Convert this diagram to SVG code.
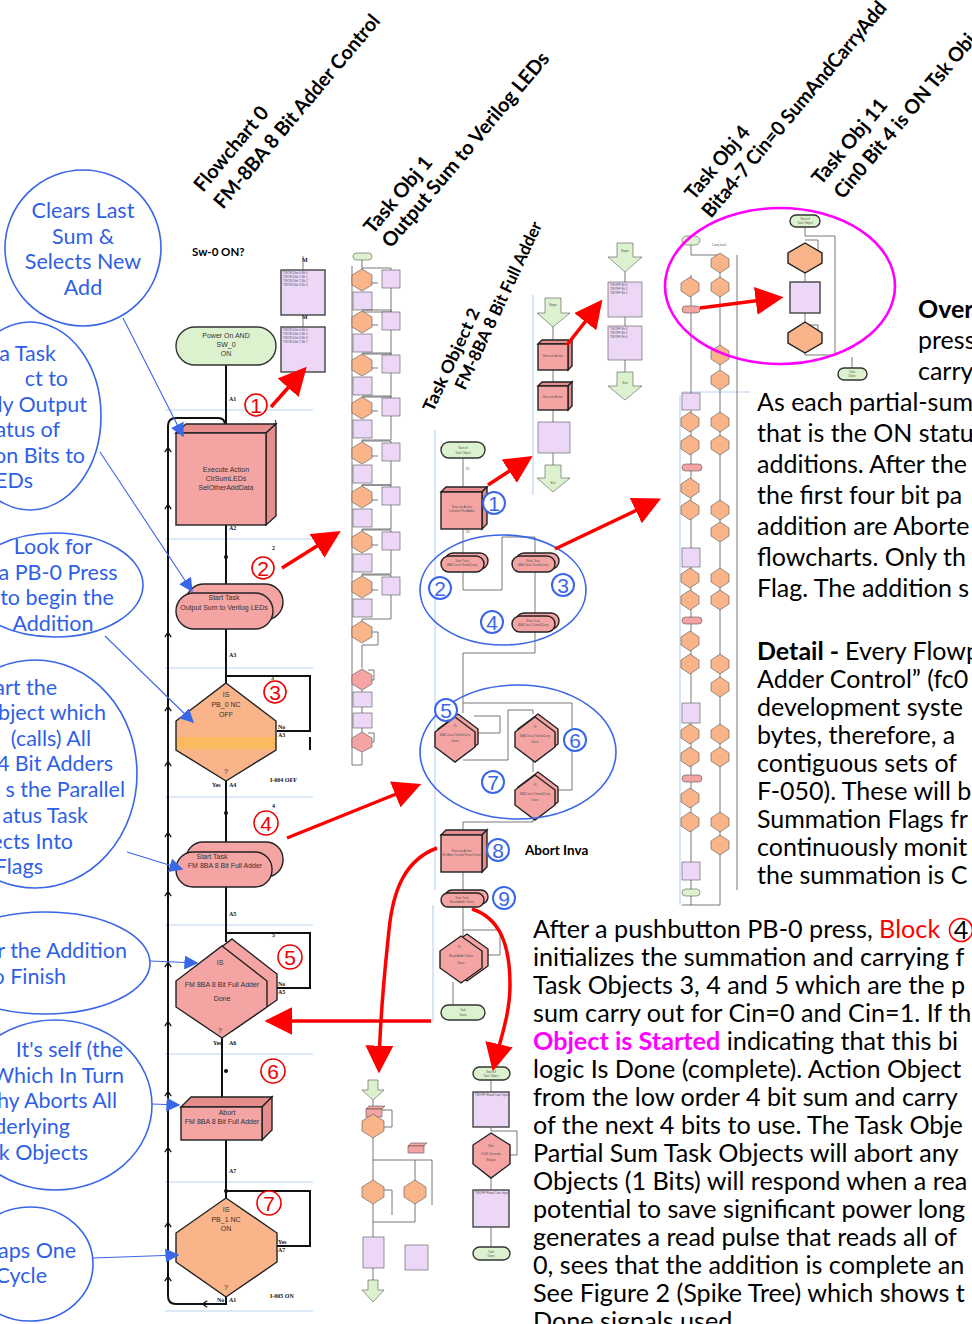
<svg xmlns="http://www.w3.org/2000/svg" width="972" height="1324" viewBox="0 0 972 1324">
<style>
  .bg{fill:#fff}
  .ell{fill:none;stroke:#3a66e8;stroke-width:1.6}
  .etx{font-family:Lato,"Liberation Sans",sans-serif;font-size:21.5px;fill:#2f5fe6}
  .blue{stroke:#3a66e8;stroke-width:1.1;fill:none}
  .red{stroke:#f00;stroke-width:3.5;fill:none}
  .redc{fill:#fff;stroke:#e00;stroke-width:1.6}
  .rnum{font-family:"Liberation Sans",sans-serif;font-size:21px;fill:#e00;text-anchor:middle}
  .bluc{fill:#fff;stroke:#3a66e8;stroke-width:2}
  .bnum{font-family:"Liberation Sans",sans-serif;font-size:21px;fill:#3a66e8;text-anchor:middle}
  .ttl{font-family:Lato,"Liberation Sans",sans-serif;font-weight:700;font-size:20px;fill:#000}
  .ttl2{font-family:Lato,"Liberation Sans",sans-serif;font-weight:700;font-size:17px;fill:#000}
  .para{font-family:Lato,"Liberation Sans",sans-serif;font-size:25px;fill:#000}
  .para2{font-family:Lato,"Liberation Sans",sans-serif;font-size:25.2px;fill:#000}
  .ln{stroke:#111;stroke-width:2;fill:none}
  .thin{stroke:#555;stroke-width:0.8;fill:none}
  .sep{stroke:#bcd4f4;stroke-width:1.2}
  .pink{fill:#f5a4a4;stroke:#222;stroke-width:1.4}
  .pinkd{fill:#e58c8c;stroke:#222;stroke-width:1.4}
  .org{fill:#f9b48a;stroke:#222;stroke-width:1.4}
  .grn{fill:#dcf2cf;stroke:#333;stroke-width:1.4}
  .lil{fill:#ecd7f7;stroke:#444;stroke-width:1.4}
  .mpink{fill:#f5a4a4;stroke:#555;stroke-width:0.6}
  .morg{fill:#f9b48a;stroke:#555;stroke-width:0.6}
  .mgrn{fill:#dcf2cf;stroke:#555;stroke-width:0.6}
  .mlil{fill:#ecd7f7;stroke:#555;stroke-width:0.6}
  .ft{font-family:"Liberation Sans",sans-serif;font-size:7px;fill:#333;text-anchor:middle}
  .lab{font-family:"Liberation Serif",serif;font-size:6px;font-weight:700;fill:#111}
  .tiny{font-family:"Liberation Sans",sans-serif;font-size:3px;fill:#555}
</style>
<defs>
  <marker id="ah-blue" viewBox="0 0 10 10" refX="9" refY="5" markerWidth="14" markerHeight="14" markerUnits="userSpaceOnUse" orient="auto">
    <path d="M0,0 L10,5 L0,10 z" fill="#3a66e8"/>
  </marker>
  <marker id="ah-red" viewBox="0 0 10 10" refX="8" refY="5" markerWidth="8" markerHeight="8" orient="auto">
    <path d="M0,0 L10,5 L0,10 z" fill="#f00"/>
  </marker>
  <marker id="chev" viewBox="0 0 10 10" refX="5" refY="5" markerWidth="8" markerHeight="8" markerUnits="userSpaceOnUse" orient="auto">
    <path d="M1,1 L7,5 L1,9" fill="none" stroke="#111" stroke-width="1.6"/>
  </marker>
  <!-- small flowchart symbols used in the miniature task charts -->
  <polygon id="md2" class="morg" points="0,-10 9,-4 9,4 0,10 -9,4 -9,-4"/>
  <g id="t1unit">
    <polyline class="thin" points="362,268 391,268 391,270"/>
    <polyline class="thin" points="391,288 391,312 362,312 362,314"/>
    <polyline class="thin" points="372,283 378,283"/>
    <polygon class="morg" points="362,269 372,275 372,285 362,291 352,285 352,275"/>
    <rect class="mlil" x="382" y="270" width="18" height="18"/>
    <rect class="mlil" x="353" y="292" width="19" height="18"/>
  </g>
</defs>

<rect class="bg" x="0" y="0" width="972" height="1324"/>

<!-- explanation bubbles at the left edge -->
<g id="bubble-1">
  <ellipse class="ell" cx="83" cy="248" rx="78" ry="78"/>
  <text class="etx" text-anchor="middle"><tspan x="83" y="218">Clears Last</tspan><tspan x="83" y="244">Sum &amp;</tspan><tspan x="83" y="269">Selects New</tspan><tspan x="83" y="295">Add</tspan></text>
</g>
<g id="bubble-2">
  <ellipse class="ell" cx="30" cy="416" rx="71" ry="94"/>
  <text class="etx" text-anchor="end"><tspan x="56" y="361">a Task</tspan><tspan x="68" y="386">ct to</tspan><tspan x="87" y="412">ly Output</tspan><tspan x="60" y="437">atus of</tspan><tspan x="85" y="463">on Bits to</tspan><tspan x="33" y="488">EDs</tspan></text>
</g>
<g id="bubble-3">
  <ellipse class="ell" cx="55" cy="585" rx="88" ry="52"/>
  <text class="etx" text-anchor="middle"><tspan x="53" y="554">Look for</tspan><tspan x="58" y="580">a PB-0 Press</tspan><tspan x="57" y="605">to begin the</tspan><tspan x="53" y="631">Addition</tspan></text>
</g>
<g id="bubble-4">
  <ellipse class="ell" cx="35" cy="774" rx="102" ry="114"/>
  <text class="etx" text-anchor="end"><tspan x="57" y="695">art the</tspan><tspan x="106" y="720">bject which</tspan><tspan x="91" y="746">(calls) All</tspan><tspan x="113" y="771">4 Bit Adders</tspan><tspan x="125" y="797">s the Parallel</tspan><tspan x="88" y="823">atus Task</tspan><tspan x="73" y="849">ects Into</tspan><tspan x="43" y="874">Flags</tspan></text>
</g>
<g id="bubble-5">
  <ellipse class="ell" cx="45" cy="963" rx="105" ry="51"/>
  <text class="etx" text-anchor="end"><tspan x="127" y="958">r the Addition</tspan><tspan x="66" y="984">to Finish</tspan></text>
</g>
<g id="bubble-6">
  <ellipse class="ell" cx="55" cy="1105" rx="97" ry="85"/>
  <text class="etx" text-anchor="end"><tspan x="123" y="1057">It's self (the</tspan><tspan x="124" y="1083">Which In Turn</tspan><tspan x="117" y="1108">hy Aborts All</tspan><tspan x="70" y="1134">derlying</tspan><tspan x="88" y="1160">k Objects</tspan></text>
</g>
<g id="bubble-7">
  <ellipse class="ell" cx="30" cy="1264" rx="63" ry="57"/>
  <text class="etx" text-anchor="end"><tspan x="76" y="1258">aps One</tspan><tspan x="47" y="1283">Cycle</tspan></text>
</g>

<!-- rotated chart titles -->
<g id="titles">
  <text class="ttl" transform="translate(203,193) rotate(-50)" textLength="104" lengthAdjust="spacingAndGlyphs">Flowchart 0</text>
  <text class="ttl" transform="translate(223,210) rotate(-50)" textLength="246" lengthAdjust="spacingAndGlyphs">FM-8BA 8 Bit Adder Control</text>
  <text class="ttl" transform="translate(373,235) rotate(-50)" textLength="94" lengthAdjust="spacingAndGlyphs">Task Obj 1</text>
  <text class="ttl" transform="translate(391,249) rotate(-50)" textLength="248" lengthAdjust="spacingAndGlyphs">Output Sum to Verilog LEDs</text>
  <text class="ttl2" transform="translate(433,413) rotate(-65)" textLength="112" lengthAdjust="spacingAndGlyphs">Task Object 2</text>
  <text class="ttl2" transform="translate(465,391) rotate(-65)" textLength="183" lengthAdjust="spacingAndGlyphs">FM-8BA 8 Bit Full Adder</text>
  <text class="ttl" transform="translate(694,201) rotate(-50)" textLength="89" lengthAdjust="spacingAndGlyphs">Task Obj 4</text>
  <text class="ttl" transform="translate(711,219) rotate(-50)" textLength="275" lengthAdjust="spacingAndGlyphs">Bita4-7 Cin=0 SumAndCarryAdd</text>
  <text class="ttl" transform="translate(821,186) rotate(-50)" textLength="105" lengthAdjust="spacingAndGlyphs">Task Obj 11</text>
  <text class="ttl" transform="translate(843,200) rotate(-50)" textLength="208" lengthAdjust="spacingAndGlyphs">Cin0 Bit 4 is ON Tsk Obj</text>
  <text x="192" y="256" style="font-family:Lato,'Liberation Sans',sans-serif;font-weight:700;font-size:11.5px">Sw-0 ON?</text>
  <text x="525" y="855" style="font-family:Lato,'Liberation Sans',sans-serif;font-weight:700;font-size:13.5px">Abort Inva</text>
</g>

<!-- Flowchart 0: section separators -->
<g id="separators">
  <line class="sep" x1="165" y1="410" x2="313" y2="410"/>
  <line class="sep" x1="165" y1="539" x2="313" y2="539"/>
  <line class="sep" x1="165" y1="668" x2="313" y2="668"/>
  <line class="sep" x1="165" y1="797" x2="313" y2="797"/>
  <line class="sep" x1="165" y1="925" x2="313" y2="925"/>
  <line class="sep" x1="165" y1="1054" x2="313" y2="1054"/>
  <line class="sep" x1="165" y1="1182" x2="313" y2="1182"/>
  <line class="sep" x1="165" y1="1311" x2="313" y2="1311"/>
  <line class="sep" x1="435" y1="430" x2="435" y2="890"/>
  <line class="sep" x1="433" y1="905" x2="433" y2="1022"/>
  <line class="sep" x1="533" y1="295" x2="533" y2="495"/>
  <line class="sep" x1="680" y1="395" x2="680" y2="905"/>
  <line class="sep" x1="682" y1="392" x2="750" y2="392"/>
</g>

<!-- Flowchart 0 connectors -->
<g id="connectors-main">
  <line class="ln" x1="226" y1="365" x2="226" y2="433"/>
  <line class="ln" x1="226" y1="525" x2="226" y2="593"/>
  <line class="ln" x1="226" y1="629" x2="226" y2="683"/>
  <line class="ln" x1="226" y1="781" x2="226" y2="852"/>
  <line class="ln" x1="226" y1="887" x2="226" y2="942"/>
  <line class="ln" x1="222" y1="1038" x2="222" y2="1097"/>
  <line class="ln" x1="226" y1="1140" x2="226" y2="1198"/>
  <path class="ln" d="M226,1297 V1304 H176 Q168,1304 168,1296 V426 Q168,418 176,418 H218 Q225,418 225,425 V428"/>
  <path class="ln" marker-start="url(#chev)" d="M204,1304 H203"/>
  <g class="ln">
    <path marker-start="url(#chev)" d="M168,449 V447"/>
    <path marker-start="url(#chev)" d="M168,506 V504"/>
    <path marker-start="url(#chev)" d="M168,634 V632"/>
    <path marker-start="url(#chev)" d="M168,708 V706"/>
    <path marker-start="url(#chev)" d="M168,763 V761"/>
    <path marker-start="url(#chev)" d="M168,834 V832"/>
    <path marker-start="url(#chev)" d="M168,893 V891"/>
    <path marker-start="url(#chev)" d="M168,964 V962"/>
    <path marker-start="url(#chev)" d="M168,1023 V1021"/>
    <path marker-start="url(#chev)" d="M168,1093 V1091"/>
    <path marker-start="url(#chev)" d="M168,1149 V1147"/>
    <path marker-start="url(#chev)" d="M168,1224 V1222"/>
    <path marker-start="url(#chev)" d="M168,1278 V1276"/>
  </g>
  <polyline class="ln" points="226,676 310,676 310,731 277,731"/>
  <line class="ln" x1="310" y1="737" x2="310" y2="750"/>
  <polyline class="ln" points="226,933 310,933 310,988 277,988"/>
  <polyline class="ln" points="226,1191 310,1191 310,1246 277,1246"/>
  <g fill="#111">
    <circle cx="226" cy="428" r="2.4"/>
    <circle cx="226" cy="557" r="2"/>
    <circle cx="226" cy="813" r="2"/>
    <circle cx="226" cy="1071" r="2"/>
    <circle cx="226" cy="1191" r="2"/>
  </g>
  <g class="lab">
    <text x="229" y="401">A1</text>
    <text x="229" y="530">A2</text>
    <text x="229" y="657">A3</text>
    <text x="212" y="787">Yes</text><text x="229" y="787">A4</text>
    <text x="229" y="916">A5</text>
    <text x="213" y="1045">Yes</text><text x="229" y="1045">A6</text>
    <text x="229" y="1173">A7</text>
    <text x="278" y="729">No</text><text x="278" y="737">A3</text>
    <text x="278" y="986">No</text><text x="278" y="994">A5</text>
    <text x="278" y="1244">Yes</text><text x="278" y="1252">A7</text>
    <text x="217" y="1302">No</text><text x="229" y="1302">A1</text>
    <text x="270" y="782">I-004 OFF</text>
    <text x="270" y="1298">I-005 ON</text>
    <text x="274" y="424">1</text>
    <text x="272" y="550">2</text>
    <text x="271" y="680">3</text>
    <text x="272" y="808">4</text>
    <text x="272" y="937">5</text>
    <text x="302" y="262">M</text>
    <text x="302" y="319">M</text>
  </g>
</g>

<!-- Flowchart 0 nodes -->
<g id="node-power-on">
  <rect class="grn" x="176" y="327" width="100" height="38" rx="19"/>
  <text class="ft"><tspan x="226" y="338">Power On  AND</tspan><tspan x="226" y="347">SW_0</tspan><tspan x="226" y="356">ON</tspan></text>
</g>
<g id="node-sw-outputs">
  <line class="thin" x1="303" y1="256" x2="303" y2="270"/>
  <line class="thin" x1="303" y1="315" x2="303" y2="327"/>
  <rect class="lil" x="281" y="270" width="44" height="45"/>
  <rect class="lil" x="281" y="327" width="44" height="45"/>
  <text class="tiny"><tspan x="283" y="274">TWON Dbit 0 Bit 0</tspan><tspan x="283" y="278">TWON Dbit 1 Bit 1</tspan><tspan x="283" y="282">TWON Dbit 2 Bit 2</tspan><tspan x="283" y="286">TWON Dbit 3 Bit 3</tspan></text>
  <text class="tiny"><tspan x="283" y="331">TWON Dbit 4 Bit 4</tspan><tspan x="283" y="335">TWON Dbit 5 Bit 5</tspan><tspan x="283" y="339">TWON Dbit 6 Bit 6</tspan><tspan x="283" y="343">TWON Dbit 7 Bit 7</tspan></text>
</g>
<g id="node-execute-action">
  <polygon class="pinkd" points="176,433 186,424 276,424 266,433"/>
  <polygon class="pinkd" points="266,433 276,424 276,516 266,525"/>
  <rect class="pink" x="176" y="433" width="90" height="92"/>
  <text class="ft"><tspan x="226" y="472">Execute Action</tspan><tspan x="226" y="481">ClrSumLEDs</tspan><tspan x="226" y="490">SelOtherAddData</tspan></text>
</g>
<g id="node-start-output">
  <rect class="pink" x="186" y="584" width="97" height="36" rx="18"/>
  <rect class="pink" x="176" y="593" width="97" height="36" rx="18"/>
  <text class="ft"><tspan x="224" y="600">Start Task</tspan><tspan x="224" y="610">Output Sum to Verilog LEDs</tspan></text>
</g>
<g id="node-pb0-off">
  <polygon class="org" points="226,683 276,721 276,750 226,781 176,750 176,721"/>
  <rect x="177" y="737" width="98" height="12" fill="#fcba5e"/>
  <text class="ft"><tspan x="226" y="697">IS</tspan><tspan x="226" y="707">PB_0 NC</tspan><tspan x="226" y="717">OFF</tspan><tspan x="226" y="774">?</tspan></text>
</g>
<g id="node-start-adder">
  <rect class="pink" x="186" y="842" width="97" height="35" rx="17"/>
  <rect class="pink" x="176" y="852" width="96" height="35" rx="17"/>
  <text class="ft"><tspan x="212" y="859">Start Task</tspan><tspan x="225" y="868">FM 8BA 8 Bit Full Adder</tspan></text>
</g>
<g id="node-adder-done">
  <polygon class="pink" points="232,939 277,974 277,1000 232,1031 186,1000 186,974"/>
  <polygon class="pink" points="222,946 267,981 267,1007 222,1038 176,1007 176,981"/>
  <text class="ft"><tspan x="220" y="965">IS</tspan><tspan x="222" y="987">FM 8BA 8 Bit Full Adder</tspan><tspan x="222" y="1001">Done</tspan><tspan x="220" y="1033">?</tspan></text>
</g>
<g id="node-abort-adder">
  <polygon class="pinkd" points="181,1107 191,1097 272,1097 262,1107"/>
  <polygon class="pinkd" points="262,1107 272,1097 272,1130 262,1140"/>
  <rect class="pink" x="181" y="1107" width="81" height="33"/>
  <text class="ft"><tspan x="227" y="1115">Abort</tspan><tspan x="222" y="1124">FM 8BA 8 Bit Full Adder</tspan></text>
</g>
<g id="node-pb1-on">
  <polygon class="org" points="226,1198 277,1233 277,1262 226,1297 176,1262 176,1233"/>
  <text class="ft"><tspan x="226" y="1212">IS</tspan><tspan x="226" y="1222">PB_1 NC</tspan><tspan x="226" y="1231">ON</tspan><tspan x="226" y="1290">?</tspan></text>
</g>

<!-- Task Obj 1 miniature chart -->
<g id="task-obj-1">
  <line class="thin" x1="352" y1="266" x2="352" y2="765"/>
  <line class="thin" x1="362" y1="260" x2="362" y2="269"/>
  <rect class="mgrn" x="353" y="253" width="19" height="7" rx="3.5"/>
  <use href="#t1unit"/>
  <use href="#t1unit" y="42"/>
  <use href="#t1unit" y="85"/>
  <use href="#t1unit" y="128"/>
  <use href="#t1unit" y="173"/>
  <use href="#t1unit" y="217"/>
  <use href="#t1unit" y="262"/>
  <use href="#t1unit" y="307"/>
  <polyline class="thin" points="372,632 378,632 378,645 362,645 362,668"/>
  <polygon class="morg" points="362,621 372,627 372,637 362,643 352,637 352,627"/>
  <line class="thin" x1="362" y1="690" x2="362" y2="692"/>
  <line class="thin" x1="362" y1="707" x2="362" y2="713"/>
  <line class="thin" x1="362" y1="728" x2="362" y2="732"/>
  <line class="thin" x1="362" y1="752" x2="362" y2="765"/>
  <line class="thin" x1="352" y1="765" x2="362" y2="765"/>
  <polyline class="thin" points="368,670 374,670 374,680 372,680"/>
  <polyline class="thin" points="368,733 374,733 374,742 372,742"/>
  <polygon class="mpink" points="362,669 372,675 372,684 362,690 352,684 352,675"/>
  <rect class="mlil" x="353" y="692" width="19" height="15"/>
  <rect class="mlil" x="353" y="713" width="19" height="15"/>
  <polygon class="mpink" points="362,732 372,738 372,747 362,752 352,747 352,738"/>
</g>

<!-- Task Object 2 chart -->
<g id="task-obj-2">
  <g id="t2-lines">
    <line class="thin" x1="463" y1="458" x2="463" y2="492"/>
    <line class="thin" x1="463" y1="529" x2="463" y2="555"/>
    <polyline class="thin" points="463,572 463,590 502,590 502,537 535,537 535,555"/>
    <line class="thin" x1="535" y1="572" x2="535" y2="613"/>
    <polyline class="thin" points="535,632 535,653 463,653 463,713"/>
    <polyline class="thin" points="463,703 572,703 572,790 556,790"/>
    <polyline class="thin" points="474,716 500,716 500,733 474,733"/>
    <polyline class="thin" points="463,760 508,760 508,710 533,710 533,714"/>
    <line class="thin" x1="533" y1="758" x2="533" y2="772"/>
    <polyline class="thin" points="533,818 533,822 463,822 463,830"/>
    <line class="thin" x1="463" y1="872" x2="463" y2="893"/>
    <polyline class="thin" points="463,907 463,936"/>
    <polyline class="thin" points="463,930 500,930 500,955 483,955"/>
    <line class="thin" x1="453" y1="982" x2="453" y2="1005"/>
    <text class="tiny" x="466" y="470">S1</text>
    <text class="tiny" x="466" y="533">S2</text>
  </g>
  <rect class="grn" x="441" y="442" width="44" height="16" rx="8" stroke-width="0.8"/>
  <text class="tiny" text-anchor="middle"><tspan x="463" y="449">Start of</tspan><tspan x="463" y="454">Task Object</tspan></text>
  <polygon class="pinkd" points="441,492 446,487 487,487 482,492" stroke-width="0.8"/>
  <polygon class="pinkd" points="482,492 487,487 487,524 482,529" stroke-width="0.8"/>
  <rect class="pink" x="441" y="492" width="41" height="37" stroke-width="0.8"/>
  <text class="tiny" text-anchor="middle"><tspan x="462" y="508">Execute Action</tspan><tspan x="462" y="512">Initialize FlexAdder</tspan></text>
  <rect class="pink" x="445" y="553" width="43" height="16" rx="8" stroke-width="0.8"/>
  <rect class="pink" x="441" y="556" width="43" height="16" rx="8" stroke-width="0.8"/>
  <text class="tiny" text-anchor="middle"><tspan x="462" y="562">Start Task</tspan><tspan x="462" y="566">4BA Cin=0 Sum&amp;Carry</tspan></text>
  <rect class="pink" x="516" y="553" width="43" height="16" rx="8" stroke-width="0.8"/>
  <rect class="pink" x="512" y="556" width="43" height="16" rx="8" stroke-width="0.8"/>
  <text class="tiny" text-anchor="middle"><tspan x="533" y="562">Start Task</tspan><tspan x="533" y="566">4BA Cin=0 Sum&amp;Carry</tspan></text>
  <rect class="pink" x="516" y="613" width="43" height="16" rx="8" stroke-width="0.8"/>
  <rect class="pink" x="512" y="616" width="43" height="16" rx="8" stroke-width="0.8"/>
  <text class="tiny" text-anchor="middle"><tspan x="533" y="622">Start Task</tspan><tspan x="533" y="626">4BA Cin=1 Sum&amp;Carry</tspan></text>
  <g id="t2-diamonds">
    <polygon class="pink" points="458,714 478,729 478,744 458,759 438,744 438,729" stroke-width="0.8"/>
    <polygon class="pink" points="455,717 475,732 475,747 455,762 435,747 435,732" stroke-width="0.8"/>
    <text class="tiny" text-anchor="middle"><tspan x="455" y="727">IS</tspan><tspan x="455" y="736">4BA Cin=0 Sum&amp;Carry</tspan><tspan x="455" y="742">Done</tspan></text>
    <polygon class="pink" points="538,714 558,729 558,744 538,759 518,744 518,729" stroke-width="0.8"/>
    <polygon class="pink" points="535,717 555,732 555,747 535,762 515,747 515,732" stroke-width="0.8"/>
    <text class="tiny" text-anchor="middle"><tspan x="535" y="728">IS</tspan><tspan x="535" y="737">4BA Cin=0 Sum&amp;Carry</tspan><tspan x="535" y="743">Done</tspan></text>
    <polygon class="pink" points="538,772 558,787 558,802 538,817 518,802 518,787" stroke-width="0.8"/>
    <polygon class="pink" points="535,775 555,790 555,805 535,820 515,805 515,790" stroke-width="0.8"/>
    <text class="tiny" text-anchor="middle"><tspan x="535" y="786">IS</tspan><tspan x="535" y="795">4BA Cin=1 Sum&amp;Carry</tspan><tspan x="535" y="801">Done</tspan></text>
  </g>
  <polygon class="pinkd" points="441,835 446,830 487,830 482,835" stroke-width="0.8"/>
  <polygon class="pinkd" points="482,835 487,830 487,867 482,872" stroke-width="0.8"/>
  <rect class="pink" x="441" y="835" width="41" height="37" stroke-width="0.8"/>
  <text class="tiny" text-anchor="middle"><tspan x="462" y="852">Execute Action</tspan><tspan x="462" y="856">Eff Abort Invalid Partial Sums</tspan></text>
  <rect class="pink" x="445" y="890" width="43" height="14" rx="7" stroke-width="0.8"/>
  <rect class="pink" x="441" y="893" width="43" height="14" rx="7" stroke-width="0.8"/>
  <text class="tiny" text-anchor="middle"><tspan x="462" y="899">Start Task</tspan><tspan x="462" y="903">Read Adder Value</tspan></text>
  <polygon class="pink" points="467,934 488,949 488,966 467,981 446,966 446,949" stroke-width="0.8"/>
  <polygon class="pink" points="461,936 482,951 482,968 461,983 440,968 440,951" stroke-width="0.8"/>
  <text class="tiny" text-anchor="middle"><tspan x="459" y="948">IS</tspan><tspan x="461" y="957">Read Adder Value</tspan><tspan x="461" y="964">Done</tspan></text>
  <rect class="grn" x="441" y="1005" width="44" height="15" rx="7.5" stroke-width="0.8"/>
  <text class="tiny" text-anchor="middle"><tspan x="463" y="1011">Task</tspan><tspan x="463" y="1016">Done</tspan></text>
</g>

<!-- Output chart (Begin / Exit) -->
<g id="task-output">
  <line class="thin" x1="553" y1="318" x2="553" y2="340"/>
  <line class="thin" x1="553" y1="370" x2="553" y2="385"/>
  <line class="thin" x1="553" y1="410" x2="553" y2="422"/>
  <line class="thin" x1="553" y1="453" x2="553" y2="465"/>
  <polygon class="mgrn" points="545,298 561,298 561,313 570,313 553,327 537,313 545,313"/>
  <text class="tiny" x="553" y="306" text-anchor="middle">Begin</text>
  <polygon class="pinkd" points="538,344 542,340 572,340 568,344" stroke-width="0.8"/>
  <polygon class="pinkd" points="568,344 572,340 572,366 568,370" stroke-width="0.8"/>
  <rect class="pink" x="538" y="344" width="30" height="26" stroke-width="0.8"/>
  <text class="tiny" x="553" y="357" text-anchor="middle">Execute Action</text>
  <polygon class="pinkd" points="538,386 542,382 572,382 568,386" stroke-width="0.8"/>
  <polygon class="pinkd" points="568,386 572,382 572,406 568,410" stroke-width="0.8"/>
  <rect class="pink" x="538" y="386" width="30" height="24" stroke-width="0.8"/>
  <text class="tiny" x="553" y="398" text-anchor="middle">Execute Action</text>
  <rect class="mlil" x="538" y="422" width="32" height="31"/>
  <polygon class="mgrn" points="545,465 561,465 561,478 570,478 553,492 537,478 545,478"/>
  <text class="tiny" x="553" y="484" text-anchor="middle">Exit</text>
</g>
<g id="task-output-2">
  <line class="thin" x1="625" y1="272" x2="625" y2="282"/>
  <line class="thin" x1="625" y1="317" x2="625" y2="326"/>
  <line class="thin" x1="625" y1="360" x2="625" y2="372"/>
  <polygon class="mgrn" points="617,243 633,243 633,257 642,257 625,272 608,257 617,257"/>
  <text class="tiny" x="625" y="252" text-anchor="middle">Begin</text>
  <rect class="mlil" x="608" y="282" width="34" height="35"/>
  <rect class="mlil" x="608" y="326" width="34" height="34"/>
  <text class="tiny"><tspan x="610" y="286">TWOFF Bit 0</tspan><tspan x="610" y="290">TWOFF Bit 1</tspan><tspan x="610" y="294">TWOFF Bit 2</tspan><tspan x="610" y="330">TWOFF Bit 4</tspan><tspan x="610" y="334">TWOFF Bit 5</tspan><tspan x="610" y="338">TWOFF Bit 6</tspan></text>
  <polygon class="mgrn" points="617,372 633,372 633,386 642,386 625,400 608,386 617,386"/>
  <text class="tiny" x="625" y="384" text-anchor="middle">Exit</text>
</g>

<!-- Task Obj 4 miniature chart -->
<g id="task-obj-4">
  <polyline class="thin" points="691,245 691,255 720,255 720,905"/>
  <line class="thin" x1="691" y1="275" x2="691" y2="905"/>
  <line class="thin" x1="737" y1="255" x2="737" y2="890"/>
  <line class="thin" x1="682" y1="905" x2="720" y2="905"/>
  <rect class="mgrn" x="682" y="236" width="18" height="9" rx="4.5"/>
  <text class="tiny" x="712" y="246">Carry In=0</text>
  <use href="#md2" x="720" y="263"/>
  <use href="#md2" x="690" y="287"/>
  <use href="#md2" x="720" y="287"/>
  <rect class="mpink" x="682" y="306" width="18" height="7" rx="3.5"/>
  <use href="#md2" x="720" y="355"/>
  <use href="#md2" x="720" y="380"/>
  <rect class="mlil" x="682" y="393" width="18" height="17"/>
  <use href="#md2" x="690" y="422"/><use href="#md2" x="720" y="422"/>
  <use href="#md2" x="690" y="445"/><use href="#md2" x="720" y="445"/>
  <rect class="mpink" x="682" y="464" width="20" height="7" rx="3.5"/>
  <use href="#md2" x="690" y="488"/>
  <use href="#md2" x="690" y="510"/><use href="#md2" x="720" y="510"/>
  <use href="#md2" x="720" y="532"/>
  <rect class="mlil" x="682" y="548" width="18" height="19"/>
  <use href="#md2" x="690" y="578"/><use href="#md2" x="720" y="578"/>
  <use href="#md2" x="690" y="600"/><use href="#md2" x="720" y="600"/>
  <rect class="mpink" x="682" y="617" width="20" height="7" rx="3.5"/>
  <use href="#md2" x="690" y="641"/>
  <use href="#md2" x="690" y="664"/><use href="#md2" x="720" y="664"/>
  <use href="#md2" x="720" y="687"/>
  <rect class="mlil" x="682" y="703" width="18" height="20"/>
  <use href="#md2" x="690" y="734"/><use href="#md2" x="720" y="734"/>
  <use href="#md2" x="690" y="757"/><use href="#md2" x="720" y="757"/>
  <rect class="mpink" x="682" y="775" width="20" height="7" rx="3.5"/>
  <use href="#md2" x="690" y="798"/>
  <use href="#md2" x="690" y="822"/><use href="#md2" x="720" y="822"/>
  <use href="#md2" x="720" y="845"/>
  <rect class="mlil" x="682" y="862" width="18" height="18"/>
  <rect class="mgrn" x="682" y="889" width="18" height="7" rx="3.5"/>
</g>

<!-- Task Obj 11 chart -->
<g id="task-obj-11">
  <polyline class="thin" points="805,227 805,236 835,236 835,355 805,355 805,353"/>
  <line class="thin" x1="805" y1="273" x2="805" y2="282"/>
  <line class="thin" x1="805" y1="313" x2="805" y2="322"/>
  <polyline class="thin" points="805,240 818,240 818,262 822,262"/>
  <polyline class="thin" points="805,325 818,325 818,343 822,343"/>
  <line class="thin" x1="852" y1="357" x2="852" y2="368"/>
  <rect class="grn" x="790" y="215" width="30" height="12" rx="6" stroke-width="0.8"/>
  <text class="tiny" text-anchor="middle"><tspan x="805" y="220">Start of</tspan><tspan x="805" y="224">Task Object</tspan></text>
  <polygon class="org" points="805,243 822,253 822,263 805,273 788,263 788,253" stroke-width="0.8"/>
  <rect class="lil" x="790" y="282" width="30" height="31" stroke-width="0.8"/>
  <polygon class="org" points="805,322 822,333 822,343 805,353 788,343 788,333" stroke-width="0.8"/>
  <rect class="grn" x="838" y="368" width="29" height="12" rx="6" stroke-width="0.8"/>
  <text class="tiny" text-anchor="middle"><tspan x="852" y="373">Task</tspan><tspan x="852" y="377">Done</tspan></text>
</g>

<!-- Read value chart -->
<g id="task-read">
  <line class="thin" x1="491" y1="1080" x2="491" y2="1092"/>
  <polyline class="thin" points="491,1127 491,1131 517,1131 517,1155 510,1155"/>
  <line class="thin" x1="491" y1="1178" x2="491" y2="1190"/>
  <line class="thin" x1="491" y1="1227" x2="491" y2="1247"/>
  <rect class="grn" x="473" y="1067" width="37" height="13" rx="6.5" stroke-width="0.8"/>
  <text class="tiny" text-anchor="middle"><tspan x="491" y="1073">Start of</tspan><tspan x="491" y="1077">Task Object</tspan></text>
  <rect class="lil" x="473" y="1092" width="36" height="35" stroke-width="0.8"/>
  <text class="tiny" x="475" y="1096">TWOFF Read Cam Input</text>
  <polygon class="pink" points="491,1133 510,1145 510,1164 491,1178 473,1164 473,1145" stroke-width="0.8"/>
  <text class="tiny" text-anchor="middle"><tspan x="491" y="1147">Wait</tspan><tspan x="491" y="1155">0.005 Seconds</tspan><tspan x="491" y="1161">Elapse</tspan></text>
  <rect class="lil" x="473" y="1190" width="36" height="37" stroke-width="0.8"/>
  <text class="tiny" x="475" y="1194">TWOFF Read Cam Input</text>
  <rect class="grn" x="473" y="1247" width="37" height="13" rx="6.5" stroke-width="0.8"/>
  <text class="tiny" text-anchor="middle"><tspan x="491" y="1253">Task</tspan><tspan x="491" y="1257">Done</tspan></text>
</g>

<!-- lower Begin / Exit chart -->
<g id="task-lower">
  <line class="thin" x1="373" y1="1100" x2="373" y2="1114"/>
  <polyline class="thin" points="373,1137 373,1160 432,1160 432,1205"/>
  <polyline class="thin" points="383,1127 392,1127 392,1110 373,1110"/>
  <line class="thin" x1="373" y1="1160" x2="373" y2="1180"/>
  <line class="thin" x1="415" y1="1160" x2="415" y2="1180"/>
  <polyline class="thin" points="373,1204 373,1222 415,1222 415,1204"/>
  <line class="thin" x1="373" y1="1222" x2="373" y2="1237"/>
  <line class="thin" x1="373" y1="1268" x2="373" y2="1280"/>
  <polyline class="thin" points="384,1190 392,1190 392,1215"/>
  <polygon class="mgrn" points="368,1080 378,1080 378,1090 384,1090 373,1100 362,1090 368,1090"/>
  <polygon class="mpink" points="366,1109 369,1106 385,1106 382,1109"/>
  <rect class="mpink" x="366" y="1109" width="16" height="8"/>
  <polygon class="morg" points="373,1114 384,1121 384,1131 373,1138 362,1131 362,1121"/>
  <polygon class="mpink" points="408,1146 411,1143 427,1143 424,1146"/>
  <rect class="mpink" x="408" y="1146" width="16" height="7"/>
  <polygon class="morg" points="373,1180 384,1187 384,1197 373,1204 362,1197 362,1187"/>
  <polygon class="morg" points="415,1180 426,1187 426,1197 415,1204 404,1197 404,1187"/>
  <rect class="mlil" x="363" y="1237" width="21" height="31"/>
  <rect class="mlil" x="405" y="1245" width="23" height="25"/>
  <polygon class="mgrn" points="368,1280 378,1280 378,1290 384,1290 373,1302 362,1290 368,1290"/>
</g>

<!-- highlight ellipses -->
<g id="highlights">
  <ellipse class="ell" cx="503" cy="590" rx="83" ry="55" stroke-width="2.4"/>
  <ellipse class="ell" cx="518" cy="752" rx="98" ry="67" stroke-width="2.4"/>
  <ellipse cx="780" cy="286" rx="115" ry="78" fill="none" stroke="#f0f" stroke-width="2.6"/>
</g>

<!-- connectors: bubble pointers and red call-outs -->
<g id="connectors">
  <line class="blue" x1="123" y1="318" x2="183" y2="436" marker-end="url(#ah-blue)"/>
  <line class="blue" x1="100" y1="452" x2="192" y2="591" marker-end="url(#ah-blue)"/>
  <line class="blue" x1="105" y1="636" x2="193" y2="722" marker-end="url(#ah-blue)"/>
  <line class="blue" x1="127" y1="852" x2="182" y2="869" marker-end="url(#ah-blue)"/>
  <line class="blue" x1="150" y1="961" x2="197" y2="963" marker-end="url(#ah-blue)"/>
  <line class="blue" x1="152" y1="1104" x2="179" y2="1105" marker-end="url(#ah-blue)"/>
  <line class="blue" x1="93" y1="1258" x2="178" y2="1255" marker-end="url(#ah-blue)"/>

  <line class="red" x1="271" y1="407" x2="303" y2="371" marker-end="url(#ah-red)"/>
  <line class="red" x1="282" y1="568" x2="336" y2="534" marker-end="url(#ah-red)"/>
  <line class="red" x1="287" y1="838" x2="416" y2="786" marker-end="url(#ah-red)"/>
  <line class="red" x1="431" y1="1021" x2="270" y2="1021" marker-end="url(#ah-red)"/>
  <line class="red" x1="488" y1="485" x2="528" y2="459" marker-end="url(#ah-red)"/>
  <line class="red" x1="555" y1="549" x2="656" y2="501" marker-end="url(#ah-red)"/>
  <line class="red" x1="567" y1="345" x2="599" y2="304" marker-end="url(#ah-red)"/>
  <line class="red" x1="700" y1="308" x2="778" y2="298" marker-end="url(#ah-red)"/>
  <path class="red" d="M437,848 C405,860 393,890 389,930 C385,970 380,1010 379,1068" marker-end="url(#ah-red)"/>
  <path class="red" d="M472,909 C500,918 510,945 510,985 C510,1015 500,1040 494,1066" marker-end="url(#ah-red)"/>
</g>

<!-- numbered call-out circles -->
<g id="red-numbers">
  <circle class="redc" cx="256" cy="405" r="11"/><text class="rnum" x="256" y="413">1</text>
  <circle class="redc" cx="263" cy="568" r="11"/><text class="rnum" x="263" y="576">2</text>
  <circle class="redc" cx="275" cy="692" r="11"/><text class="rnum" x="275" y="700">3</text>
  <circle class="redc" cx="266" cy="823" r="12"/><text class="rnum" x="266" y="831">4</text>
  <circle class="redc" cx="290" cy="957" r="12"/><text class="rnum" x="290" y="965">5</text>
  <circle class="redc" cx="273" cy="1071" r="12"/><text class="rnum" x="273" y="1079">6</text>
  <circle class="redc" cx="269" cy="1203" r="12"/><text class="rnum" x="269" y="1211">7</text>
</g>
<g id="blue-numbers">
  <circle class="bluc" cx="494" cy="503" r="11"/><text class="bnum" x="494" y="511">1</text>
  <circle class="bluc" cx="440" cy="588" r="11"/><text class="bnum" x="440" y="596">2</text>
  <circle class="bluc" cx="563" cy="585" r="11"/><text class="bnum" x="563" y="593">3</text>
  <circle class="bluc" cx="492" cy="622" r="11"/><text class="bnum" x="492" y="630">4</text>
  <circle class="bluc" cx="446" cy="710" r="11"/><text class="bnum" x="446" y="718">5</text>
  <circle class="bluc" cx="575" cy="740" r="11"/><text class="bnum" x="575" y="748">6</text>
  <circle class="bluc" cx="493" cy="782" r="11"/><text class="bnum" x="493" y="790">7</text>
  <circle class="bluc" cx="498" cy="850" r="11"/><text class="bnum" x="498" y="858">8</text>
  <circle class="bluc" cx="504" cy="898" r="11"/><text class="bnum" x="504" y="906">9</text>
</g>

<!-- description text -->
<g id="text-overview">
  <text class="para" x="918" y="318" font-weight="700">Over</text>
  <text class="para" x="918" y="349">press</text>
  <text class="para" x="918" y="380">carry</text>
  <text class="para"><tspan x="757" y="411">As each partial-sum</tspan><tspan x="757" y="442">that is the ON statu</tspan><tspan x="757" y="473">additions. After the</tspan><tspan x="757" y="504">the first four bit pa</tspan><tspan x="757" y="535">addition are Aborte</tspan><tspan x="757" y="566">flowcharts. Only th</tspan><tspan x="757" y="597">Flag. The addition s</tspan></text>
</g>
<g id="text-detail">
  <text class="para"><tspan x="757" y="660" font-weight="700">Detail - </tspan><tspan>Every Flowp</tspan><tspan x="757" y="688">Adder Control” (fc0</tspan><tspan x="757" y="716">development syste</tspan><tspan x="757" y="744">bytes, therefore, a</tspan><tspan x="757" y="772">contiguous sets of </tspan><tspan x="757" y="800">F-050). These will b</tspan><tspan x="757" y="828">Summation Flags fr</tspan><tspan x="757" y="856">continuously monit</tspan><tspan x="757" y="884">the summation is C</tspan></text>
</g>
<g id="text-sequence">
  <text class="para2"><tspan x="533" y="938">After a pushbutton PB-0 press, </tspan><tspan fill="#f00">Block</tspan></text>
  <circle cx="961" cy="930" r="11.5" fill="none" stroke="#f00" stroke-width="1.6"/>
  <text class="para2" x="961" y="939" fill="#f00" text-anchor="middle" font-size="22">4</text>
  <text class="para2"><tspan x="533" y="966">initializes the summation and carrying f</tspan><tspan x="533" y="994">Task Objects 3, 4 and 5 which are the p</tspan><tspan x="533" y="1022">sum carry out for Cin=0 and Cin=1. If th</tspan><tspan x="533" y="1050" fill="#f0f" font-weight="700">Object is Started</tspan><tspan> indicating that this bi</tspan><tspan x="533" y="1078">logic Is Done (complete). Action Object</tspan><tspan x="533" y="1106">from the low order 4 bit sum and carry</tspan><tspan x="533" y="1134">of the next 4 bits to use. The Task Obje</tspan><tspan x="533" y="1162">Partial Sum Task Objects will abort any</tspan><tspan x="533" y="1190">Objects (1 Bits) will respond when a rea</tspan><tspan x="533" y="1218">potential to save significant power long</tspan><tspan x="533" y="1246">generates a read pulse that reads all of</tspan><tspan x="533" y="1274">0, sees that the addition is complete an</tspan><tspan x="533" y="1302">See Figure 2 (Spike Tree) which shows t</tspan><tspan x="533" y="1330">Done signals used</tspan></text>
</g>
</svg>
